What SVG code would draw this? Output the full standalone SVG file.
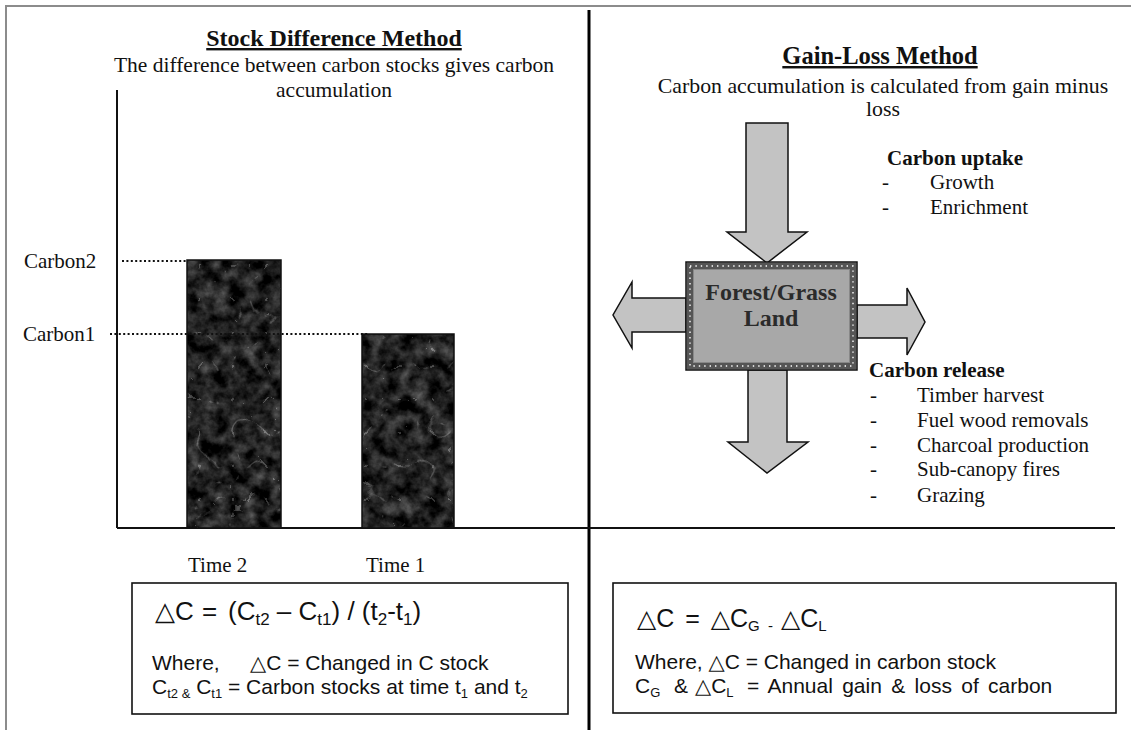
<svg xmlns="http://www.w3.org/2000/svg" width="1131" height="730" viewBox="0 0 1131 730">
  <style>
    .serif { font-family: "Liberation Serif", "Times New Roman", serif; fill: #111; }
    .sans { font-family: "Liberation Sans", Arial, "DejaVu Sans", sans-serif; fill: #111; }
    .title { font-weight: bold; text-decoration: underline; }
    .lbl { font-size: 21px; }
    .head { font-size: 21px; font-weight: bold; }
    .axis { stroke: #111; stroke-width: 2; fill: none; }
    .dots { stroke: #111; stroke-width: 2.2; stroke-dasharray: 2 2.4; fill: none; }
    .bar { stroke: #111; stroke-width: 1.5; fill: none; }
    .arrow { fill: #c3c3c3; stroke: #111; stroke-width: 1.5; stroke-linejoin: miter; }
    .fbox { fill: #fff; stroke: #111; stroke-width: 1.6; }
    .land { font-family: "Liberation Serif", "Times New Roman", serif; font-size: 24px; font-weight: bold; fill: #2b2b2b; }
  </style>
  <defs>
    <!-- dark mottled texture for the stock bars -->
    <filter id="rock" x="0" y="0" width="1" height="1" filterUnits="objectBoundingBox" color-interpolation-filters="sRGB">
      <feTurbulence type="fractalNoise" baseFrequency="0.07" numOctaves="4" seed="7" result="n"/>
      <feColorMatrix in="n" type="matrix" values="0.6 0 0 0 -0.17  0.6 0 0 0 -0.17  0.6 0 0 0 -0.17  0 0 0 0 1" result="base"/>
      <feTurbulence type="turbulence" baseFrequency="0.03" numOctaves="2" seed="11" result="t"/>
      <feColorMatrix in="t" type="matrix" values="-3.5 0 0 0 0.2  -3.5 0 0 0 0.2  -3.5 0 0 0 0.2  0 0 0 0 1" result="veins"/>
      <feComposite in="base" in2="veins" operator="arithmetic" k1="0" k2="1" k3="1" k4="0"/>
    </filter>
  </defs>

  <rect width="1131" height="730" fill="#fff"/>

  <!-- page frame and panel divider -->
  <g id="frame">
    <line x1="5" y1="6" x2="1131" y2="6" stroke="#8c8c8c" stroke-width="2"/>
    <line x1="6" y1="5" x2="6" y2="730" stroke="#8c8c8c" stroke-width="2"/>
    <line x1="589" y1="10" x2="589" y2="730" stroke="#000" stroke-width="3"/>
  </g>

  <!-- left panel: stock difference -->
  <g id="stock-title">
    <text class="serif title" x="334" y="46" text-anchor="middle" font-size="24">Stock Difference Method</text>
    <text class="serif" x="334" y="72" text-anchor="middle" font-size="21.5">The difference between carbon stocks gives carbon</text>
    <text class="serif" x="334" y="97" text-anchor="middle" font-size="21.5">accumulation</text>
  </g>

  <g id="axes">
    <line class="axis" x1="117" y1="90" x2="117" y2="528"/>
    <line class="axis" x1="117" y1="528" x2="1115" y2="528"/>
  </g>

  <g id="bar-time2">
    <rect x="187" y="260" width="94" height="268" fill="#1c1c1c" filter="url(#rock)"/>
    <rect class="bar" x="187" y="260" width="94" height="268"/>
  </g>
  <g id="bar-time1">
    <rect x="362" y="334" width="92" height="194" fill="#1c1c1c" filter="url(#rock)"/>
    <rect class="bar" x="362" y="334" width="92" height="194"/>
  </g>

  <g id="levels">
    <line class="dots" x1="122" y1="261" x2="186" y2="261"/>
    <line class="dots" x1="110" y1="334" x2="368" y2="334"/>
    <text class="serif lbl" x="24" y="268">Carbon2</text>
    <text class="serif lbl" x="23" y="341">Carbon1</text>
    <text class="serif lbl" x="188" y="572">Time 2</text>
    <text class="serif lbl" x="366" y="572">Time 1</text>
  </g>

  <g id="stock-formula">
    <rect class="fbox" x="132" y="583" width="436" height="131"/>
    <g class="sans" font-size="26">
      <text x="155" y="620">△C</text>
      <text x="202" y="620">=</text>
      <text x="228" y="620">(C<tspan font-size="17" dy="5">t2</tspan><tspan dy="-5"> – C</tspan><tspan font-size="17" dy="5">t1</tspan><tspan dy="-5">) / (t</tspan><tspan font-size="17" dy="5">2</tspan><tspan dy="-5">-t</tspan><tspan font-size="17" dy="5">1</tspan><tspan dy="-5">)</tspan></text>
    </g>
    <text class="sans" x="152" y="670" font-size="21">Where,</text>
    <text class="sans" x="250" y="670" font-size="21">△C = Changed in C stock</text>
    <text class="sans" x="152" y="694" font-size="21">C<tspan font-size="13" dy="4">t2 &amp;</tspan><tspan dy="-4"> C</tspan><tspan font-size="13" dy="4">t1</tspan><tspan dy="-4"> = Carbon stocks at time t</tspan><tspan font-size="13" dy="4">1</tspan><tspan dy="-4"> and t</tspan><tspan font-size="13" dy="4">2</tspan></text>
  </g>

  <!-- right panel: gain-loss -->
  <g id="gain-title">
    <text class="serif title" x="880" y="64" text-anchor="middle" font-size="24.5">Gain-Loss Method</text>
    <text class="serif" x="883" y="93" text-anchor="middle" font-size="21.8">Carbon accumulation is calculated from gain minus</text>
    <text class="serif" x="883" y="116" text-anchor="middle" font-size="21.8">loss</text>
  </g>

  <g id="connectors">
    <!-- inflow from above -->
    <polygon class="arrow" points="746,123 788,123 788,232 807,232 767,263 727,232 746,232"/>
    <!-- outflow left -->
    <polygon class="arrow" points="686,298 632,298 632,282 613,315 632,348 632,332 686,332"/>
    <!-- outflow right -->
    <polygon class="arrow" points="857,305 907,305 907,288 925,322 907,355 907,338 857,338"/>
    <!-- outflow below -->
    <polygon class="arrow" points="748,370 787,370 787,442 808,442 767,473 728,442 748,442"/>
  </g>

  <g id="land">
    <rect x="686" y="262" width="171" height="108" fill="#a8a8a8" stroke="#111" stroke-width="1.5"/>
    <rect x="690" y="266" width="163" height="100" fill="none" stroke="#555" stroke-width="6"/>
    <rect x="690" y="266" width="163" height="100" fill="none" stroke="#fff" stroke-width="1.4" stroke-dasharray="1.4 4"/>
    <rect x="693.5" y="269.5" width="156" height="93" fill="none" stroke="#888" stroke-width="1"/>
    <text class="land" x="771" y="300" text-anchor="middle">Forest/Grass</text>
    <text class="land" x="771" y="326" text-anchor="middle">Land</text>
  </g>

  <g id="uptake">
    <text class="serif head" x="887" y="165">Carbon uptake</text>
    <text class="serif lbl" x="882" y="189">-</text>
    <text class="serif lbl" x="930" y="189">Growth</text>
    <text class="serif lbl" x="882" y="214">-</text>
    <text class="serif lbl" x="930" y="214">Enrichment</text>
  </g>

  <g id="release">
    <text class="serif head" x="869" y="377">Carbon release</text>
    <text class="serif lbl" x="870" y="402">-</text>
    <text class="serif lbl" x="917" y="402">Timber harvest</text>
    <text class="serif lbl" x="870" y="427">-</text>
    <text class="serif lbl" x="917" y="427">Fuel wood removals</text>
    <text class="serif lbl" x="870" y="452">-</text>
    <text class="serif lbl" x="917" y="452">Charcoal production</text>
    <text class="serif lbl" x="870" y="476">-</text>
    <text class="serif lbl" x="917" y="476">Sub-canopy fires</text>
    <text class="serif lbl" x="870" y="502">-</text>
    <text class="serif lbl" x="917" y="502">Grazing</text>
  </g>

  <g id="gain-formula">
    <rect class="fbox" x="613" y="583" width="503" height="130"/>
    <text class="sans" x="637" y="627" font-size="25" word-spacing="4">△C = △C<tspan font-size="15" dy="4">G - </tspan><tspan dy="-4">△C</tspan><tspan font-size="15" dy="4">L</tspan></text>
    <text class="sans" x="635" y="669" font-size="21">Where, △C = Changed in carbon stock</text>
    <g class="sans" font-size="21">
      <text x="635" y="693">C<tspan font-size="13" dy="4">G</tspan></text>
      <text x="674" y="693">&amp;</text>
      <text x="695" y="693">△C<tspan font-size="13" dy="4">L</tspan></text>
      <text x="747" y="693" word-spacing="3.5">= Annual gain &amp; loss of carbon</text>
    </g>
  </g>
</svg>
